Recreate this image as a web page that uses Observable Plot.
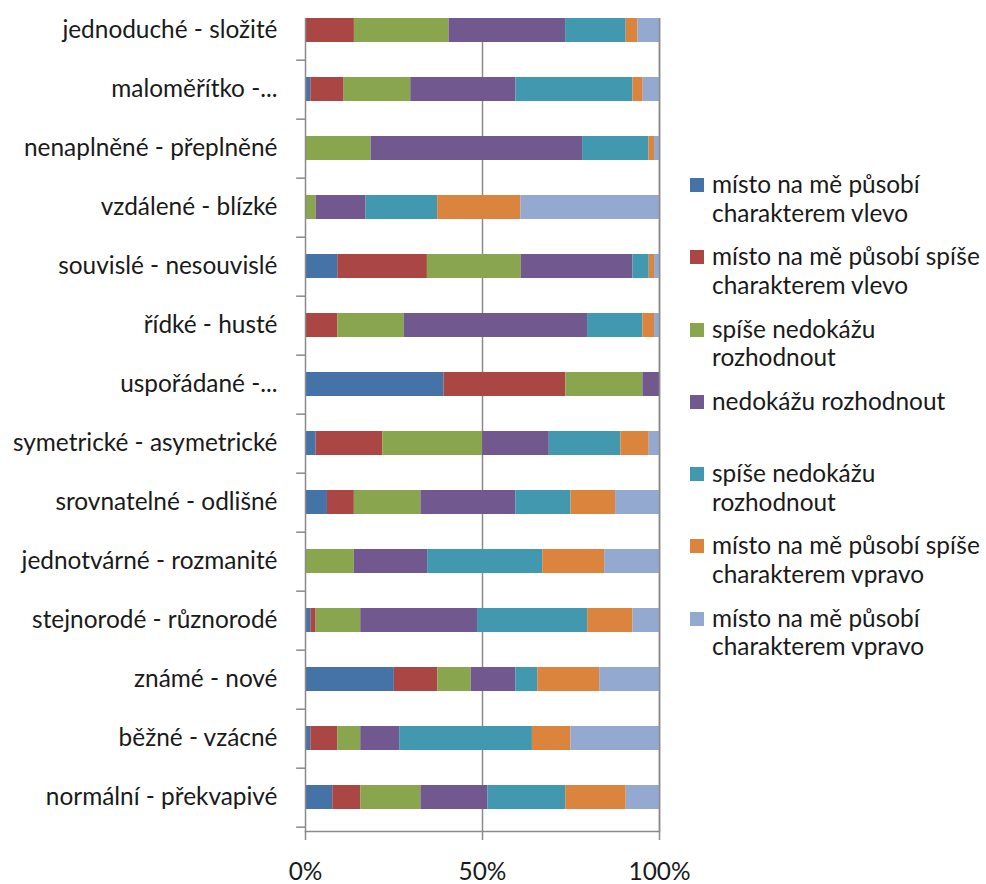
<!DOCTYPE html>
<html>
<head>
<meta charset="utf-8">
<script src="https://cdn.jsdelivr.net/npm/d3@7"></script>
<script src="https://cdn.jsdelivr.net/npm/@observablehq/plot@0.6"></script>
<style>
  html, body { margin: 0; padding: 0; background: #fff; }
  #wrap { position: relative; width: 986px; height: 884px; font-family: Lato, "Open Sans", sans-serif; }
  #chart { position: absolute; left: 0; top: 0; }
  #legend { position: absolute; left: 690px; top: 174px; font-size: 24.4px; color: #1a1a1a; }
  .item { position: relative; height: 72.3px; }
  .sw { position: absolute; left: 0; top: 4px; width: 14px; height: 14px; }
  .lbl { position: absolute; left: 22px; top: -4px; line-height: 28.5px; white-space: nowrap; }
</style>
</head>
<body>
<div id="wrap">
  <div id="chart"></div>
  <div id="legend"></div>
</div>
<script>
const categories = [
  "jednoduché - složité",
  "maloměřítko -...",
  "nenaplněné - přeplněné",
  "vzdálené - blízké",
  "souvislé - nesouvislé",
  "řídké - husté",
  "uspořádané -...",
  "symetrické - asymetrické",
  "srovnatelné - odlišné",
  "jednotvárné - rozmanité",
  "stejnorodé - různorodé",
  "známé - nové",
  "běžné - vzácné",
  "normální - překvapivé"
];

const seriesKeys = ["s1", "s2", "s3", "s4", "s5", "s6", "s7"];
const seriesLabels = [
  ["místo na mě působí", "charakterem vlevo"],
  ["místo na mě působí spíše", "charakterem vlevo"],
  ["spíše nedokážu", "rozhodnout"],
  ["nedokážu rozhodnout"],
  ["spíše nedokážu", "rozhodnout"],
  ["místo na mě působí spíše", "charakterem vpravo"],
  ["místo na mě působí", "charakterem vpravo"]
];
const seriesColors = ["#4572A7", "#AA4643", "#89A54E", "#71588F", "#4198AF", "#DB843D", "#93A9CF"];

// values in %, one per category (top to bottom)
const vlevo        = [0, 1.5, 0, 0, 9.1, 0, 39.2, 3.0, 6.2, 0, 1.5, 25.1, 1.5, 7.7];
const spiseVlevo   = [13.8, 9.4, 0, 0, 25.3, 9.1, 34.4, 18.8, 7.6, 0, 1.5, 12.3, 7.6, 7.9];
const spiseNedok1  = [26.7, 18.8, 18.5, 3.0, 26.5, 18.8, 21.8, 28.2, 18.8, 13.8, 12.6, 9.4, 6.5, 17.0];
const nedokazu     = [32.9, 29.7, 59.7, 14.1, 31.5, 51.7, 4.7, 18.8, 26.8, 20.7, 33.0, 12.6, 11.0, 18.9];
const spiseNedok2  = [17.1, 33.0, 18.7, 20.2, 4.6, 15.6, 0, 20.2, 15.6, 32.5, 31.1, 6.2, 37.5, 22.0];
const spiseVpravo  = [3.3, 2.9, 1.6, 23.5, 1.5, 3.3, 0, 8.0, 12.6, 17.5, 12.8, 17.5, 10.9, 17.1];
const vpravo       = [6.1, 4.6, 1.4, 39.1, 1.4, 1.4, 0, 2.9, 12.4, 15.5, 7.5, 16.9, 25.0, 9.4];

const seriesValues = [vlevo, spiseVlevo, spiseNedok1, nedokazu, spiseNedok2, spiseVpravo, vpravo];
const xTicks = [0, 0.5, 1];

const data = categories.flatMap((c, i) =>
  seriesKeys.map((k, j) => ({category: c, series: k, value: seriesValues[j][i]}))
);

const gray = "#8a8a8a";
const step = 59.36;

const chart = Plot.plot({
  width: 670,
  height: 884,
  marginLeft: 305,
  marginRight: 11,
  marginTop: 18,
  marginBottom: 53,
  style: {fontFamily: "Lato, 'Open Sans', sans-serif", fontSize: "24.4px", color: "#1a1a1a", background: "#fff", overflow: "visible"},
  x: {domain: [0, 1], axis: null, label: null},
  y: {domain: categories, paddingInner: 0.6, paddingOuter: 0.148, align: 0, axis: null, label: null},
  color: {domain: seriesKeys, range: seriesColors},
  marks: [
    Plot.ruleX([0.5, 1], {stroke: gray, strokeWidth: 1.5}),
    Plot.barX(data, Plot.stackX({
      x: "value", y: "category", fill: "series", z: "series",
      offset: "normalize", order: seriesKeys
    })),
    Plot.ruleX([1], {stroke: gray, strokeWidth: 1.5}),
    Plot.ruleX([0], {stroke: gray, strokeWidth: 1.5}),
    Plot.frame({anchor: "bottom", stroke: gray, strokeWidth: 1.5}),
    Plot.ruleY(categories, {y: d => d, x1: -0.025, x2: 0, dy: step / 2, stroke: gray, strokeWidth: 1.5}),
    Plot.axisY({tickSize: 0, tickPadding: 28, fontSize: 24.4, fill: "#1a1a1a", label: null}),
    Plot.axisX({ticks: xTicks, tickFormat: d3.format(".0%"), tickSize: 9, tickPadding: 22,
      fontSize: 24.4, stroke: gray, strokeWidth: 1.5, fill: "#1a1a1a", label: null})
  ]
});
document.getElementById("chart").appendChild(chart);

const legend = d3.select("#legend");
seriesLabels.forEach((lines, j) => {
  const item = legend.append("div").attr("class", "item");
  item.append("div").attr("class", "sw").style("background", seriesColors[j]);
  item.append("div").attr("class", "lbl").html(lines.join("<br>"));
});
</script>
</body>
</html>
